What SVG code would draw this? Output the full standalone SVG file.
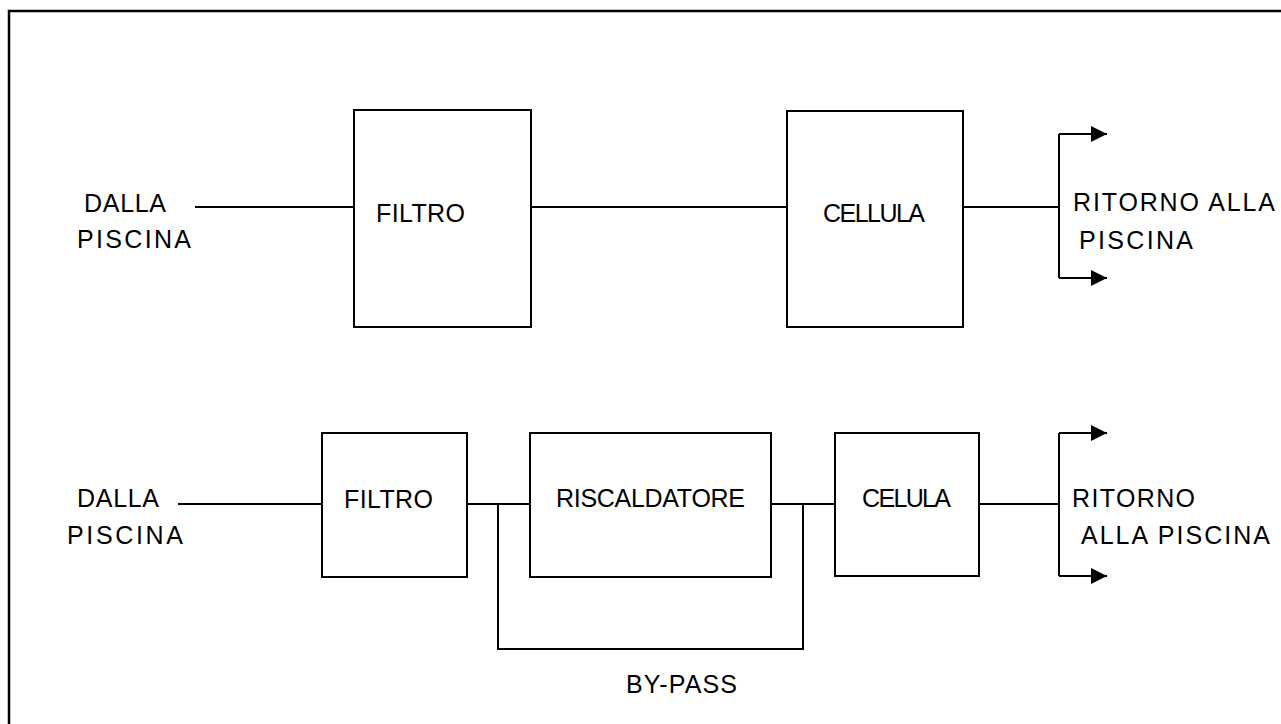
<svg xmlns="http://www.w3.org/2000/svg" width="1281" height="724" viewBox="0 0 1281 724">
<defs>
<style>
.box{fill:#fff;stroke:#000;stroke-width:2}
.ln{fill:none;stroke:#000;stroke-width:2}
.t{font-family:"Liberation Sans",Arial,sans-serif;font-size:25px;fill:#000}
</style>
<marker id="ah" markerUnits="userSpaceOnUse" markerWidth="18" markerHeight="18" refX="16" refY="8" orient="auto">
<path d="M0,0 L16,8 L0,16 Z" fill="#000"/>
</marker>
</defs>
<rect width="1281" height="724" fill="#fff"/>
<path d="M9,740 V11 H1300" fill="none" stroke="#000" stroke-width="2.5"/>
<g id="connectors">
<line class="ln" x1="195" y1="207" x2="354" y2="207"/>
<line class="ln" x1="531" y1="207" x2="787" y2="207"/>
<line class="ln" x1="963" y1="207" x2="1059" y2="207"/>
<line class="ln" x1="1059" y1="134" x2="1059" y2="278"/>
<line class="ln" x1="1059" y1="134" x2="1107" y2="134" marker-end="url(#ah)"/>
<line class="ln" x1="1059" y1="278" x2="1107" y2="278" marker-end="url(#ah)"/>
<line class="ln" x1="178" y1="504" x2="322" y2="504"/>
<line class="ln" x1="467" y1="504" x2="530" y2="504"/>
<line class="ln" x1="771" y1="504" x2="835" y2="504"/>
<line class="ln" x1="979" y1="504" x2="1059" y2="504"/>
<line class="ln" x1="1059" y1="433" x2="1059" y2="576"/>
<line class="ln" x1="1059" y1="433" x2="1107" y2="433" marker-end="url(#ah)"/>
<line class="ln" x1="1059" y1="576" x2="1107" y2="576" marker-end="url(#ah)"/>
<path id="bypass" class="ln" d="M498,504 V649 H803 V504"/>
</g>
<g id="labels">
<text class="t" x="84" y="212" textLength="82">DALLA</text>
<text class="t" x="77" y="248" textLength="114">PISCINA</text>
<text class="t" x="1073" y="211" textLength="202">RITORNO ALLA</text>
<text class="t" x="1079" y="249" textLength="114">PISCINA</text>
<text class="t" x="77" y="507" textLength="82">DALLA</text>
<text class="t" x="67" y="544" textLength="116">PISCINA</text>
<text class="t" x="1072" y="507" textLength="123">RITORNO</text>
<text class="t" x="1081" y="544" textLength="189">ALLA PISCINA</text>
<text class="t" x="626" y="693" textLength="111">BY-PASS</text>
</g>
<g id="filtro1">
<rect class="box" x="354" y="110" width="177" height="217"/>
<text class="t" x="376" y="222" textLength="89">FILTRO</text>
</g>
<g id="cellula1">
<rect class="box" x="787" y="111" width="176" height="216"/>
<text class="t" x="823" y="222" textLength="102">CELLULA</text>
</g>
<g id="filtro2">
<rect class="box" x="322" y="433" width="145" height="144"/>
<text class="t" x="344" y="508" textLength="89">FILTRO</text>
</g>
<g id="riscaldatore">
<rect class="box" x="530" y="433" width="241" height="144"/>
<text class="t" x="556" y="507" textLength="189">RISCALDATORE</text>
</g>
<g id="celula2">
<rect class="box" x="835" y="433" width="144" height="143"/>
<text class="t" x="862" y="507" textLength="89">CELULA</text>
</g>
</svg>
